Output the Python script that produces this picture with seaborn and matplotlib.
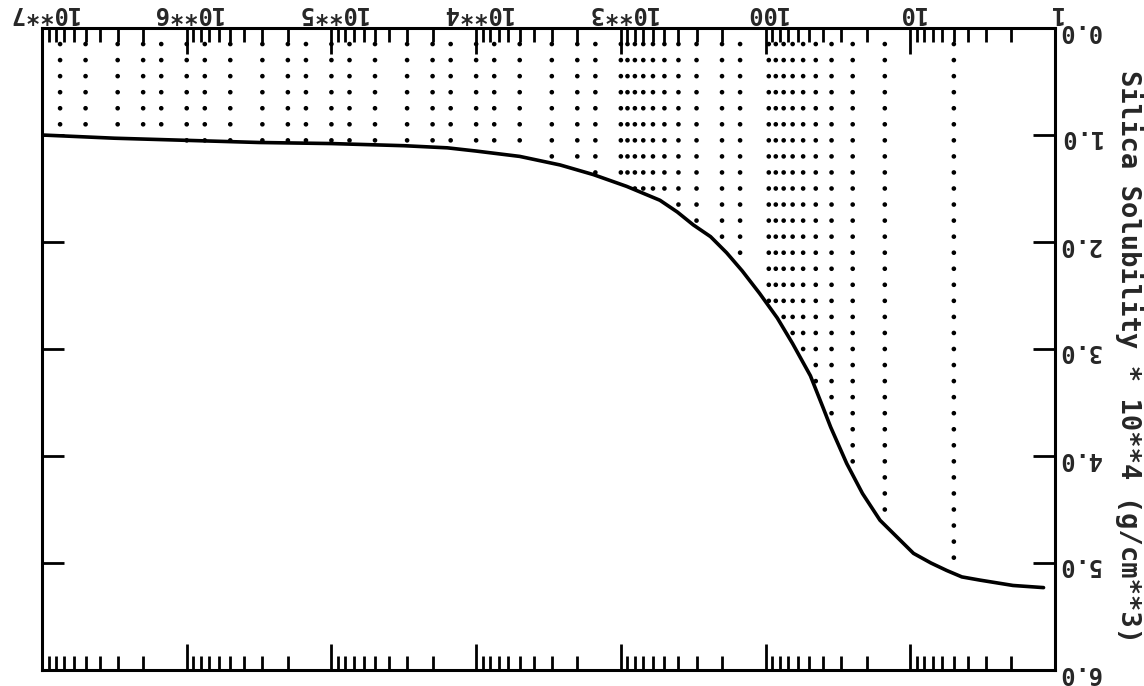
import numpy as np
import pandas as pd
import matplotlib
matplotlib.use("Agg")
import matplotlib.pyplot as plt
import seaborn as sns
from matplotlib.ticker import FixedLocator, FixedFormatter, LogLocator, NullFormatter

# ---- data ----
curve_x = [1e7, 3.16e6, 1e6, 3.16e5, 1e5, 3.16e4, 1.58e4, 1e4, 5e3, 2.63e3, 1.55e3,
           912, 537, 407, 316, 240, 186, 145, 110, 83, 65, 49, 40, 35.5, 27.5,
           21.4, 16.2, 12.3, 9.5, 7.2, 5.6, 4.4, 3.3, 1.95, 1.2]
curve_y = [1.00, 1.03, 1.05, 1.07, 1.08, 1.10, 1.12, 1.15, 1.20, 1.28, 1.37,
           1.48, 1.61, 1.72, 1.84, 1.95, 2.10, 2.27, 2.48, 2.71, 2.95, 3.25, 3.55, 3.73, 4.07,
           4.35, 4.60, 4.76, 4.91, 5.00, 5.07, 5.13, 5.16, 5.21, 5.23]

dot_columns = [5, 15, 25, 35, 45, 55, 65, 75, 85, 95,
               150, 200, 300, 400, 500, 600, 700, 800, 900, 1000,
               1500, 2000, 3000, 5000, 7500,
               1e4, 1.5e4, 2e4, 3e4, 5e4, 7.5e4,
               1e5, 1.5e5, 2e5, 3e5, 5e5, 7.5e5,
               1e6, 1.5e6, 2e6, 3e6, 5e6, 7.5e6]
dot_row_step = 0.15

x_tick_values = [1, 10, 100, 1e3, 1e4, 1e5, 1e6, 1e7]
x_tick_labels = ["1", "10", "100", "10**3", "10**4", "10**5", "10**6", "10**7"]
y_tick_values = [0, 1, 2, 3, 4, 5, 6]
y_tick_labels = ["0.0", "1.0", "2.0", "3.0", "4.0", "5.0", "6.0"]
y_label = "Silica Solubility * 10**4 (g/cm**3)"

# ---- build frames ----
curve = pd.DataFrame({"x": curve_x, "y": curve_y})
lx = np.log10(np.array(curve_x))
order = np.argsort(lx)
rows = np.arange(dot_row_step, 6.0, dot_row_step)
dx, dy = [], []
for c in dot_columns:
    limit = np.interp(np.log10(c), lx[order], np.array(curve_y)[order])
    for r in rows:
        if r < limit:
            dx.append(c)
            dy.append(r)
dots = pd.DataFrame({"x": dx, "y": dy})

# ---- style ----
sns.set_theme(style="white")
plt.rcParams["font.family"] = ["DejaVu Sans Mono"]
plt.rcParams["font.weight"] = "bold"

fig = plt.figure(figsize=(11.44, 6.86), dpi=100)
ax = fig.add_axes([42 / 1144, 1 - 670 / 686, (1055 - 42) / 1144, (670 - 28) / 686])

sns.scatterplot(data=dots, x="x", y="y", ax=ax, color="black", s=11,
                marker="o", edgecolor="none", legend=False)
sns.lineplot(data=curve, x="x", y="y", ax=ax, color="black", linewidth=2.6,
             sort=False, legend=False)

ax.set_xscale("log")
ax.set_xlim(1e7, 1)
ax.set_ylim(6, 0)

for s in ax.spines.values():
    s.set_visible(True)
    s.set_color("black")
    s.set_linewidth(2.2)

ax.xaxis.set_major_locator(FixedLocator(x_tick_values))
ax.xaxis.set_major_formatter(FixedFormatter(x_tick_labels))
ax.xaxis.set_minor_locator(LogLocator(base=10, subs=range(2, 10), numticks=20))
ax.xaxis.set_minor_formatter(NullFormatter())
ax.yaxis.set_major_locator(FixedLocator(y_tick_values))
ax.yaxis.set_major_formatter(FixedFormatter(y_tick_labels))

ax.tick_params(axis="x", which="major", direction="in", length=19, width=2,
               top=True, bottom=True, labeltop=True, labelbottom=False,
               labelsize=17, labelrotation=180, pad=2, color="black")
ax.tick_params(axis="x", which="minor", direction="in", length=10, width=2,
               top=True, bottom=True, color="black")
ax.tick_params(axis="y", which="major", direction="in", length=16, width=2,
               left=True, right=True, labelleft=False, labelright=True,
               labelsize=17, labelrotation=180, pad=2, color="black")

ax.set_xlabel("")
ax.yaxis.set_label_position("right")
ax.set_ylabel(y_label, rotation=270, fontsize=19.5, fontweight="bold", labelpad=10)
ax.yaxis.label.set_verticalalignment("bottom")
ax.yaxis.set_label_coords(1.059, 0.488)
for t in ax.get_xticklabels() + ax.get_yticklabels():
    t.set_fontweight("bold")

fig.savefig("out.png", dpi=100)
